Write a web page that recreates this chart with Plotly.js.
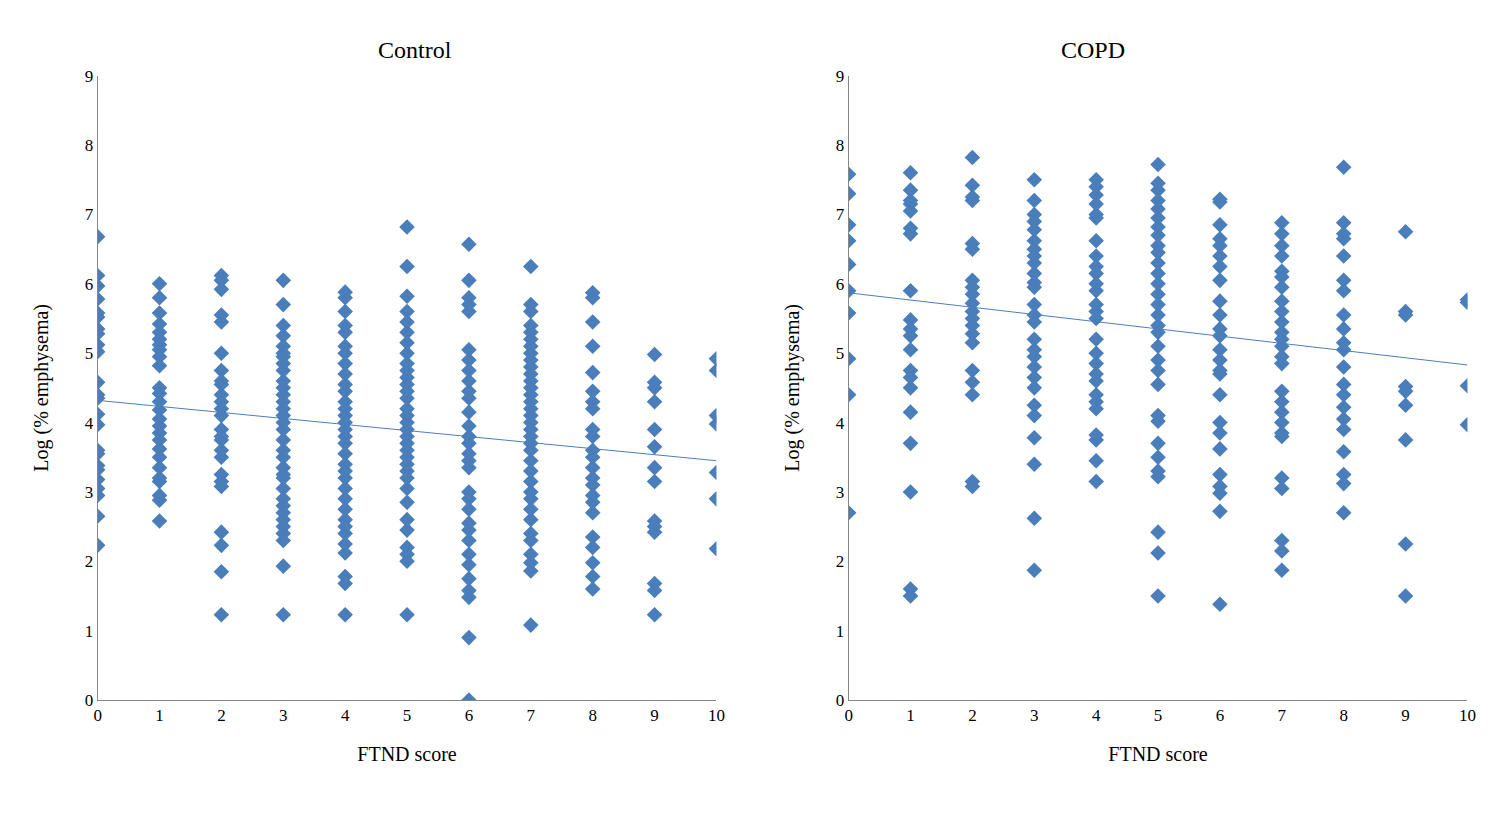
<!DOCTYPE html>
<html><head><meta charset="utf-8">
<script src="https://cdn.plot.ly/plotly-3.0.1.min.js"></script>
<style>body{margin:0}#chart{width:1502px;height:814px}</style>
</head><body><div id="chart"></div>
<script>
// FTND score columns, log(% emphysema) values per score
var controlVals = {
  0: [6.68,6.12,5.97,5.78,5.58,5.52,5.35,5.28,5.12,5.02,4.58,4.40,4.35,4.12,3.97,3.60,3.55,3.38,3.32,3.18,3.05,2.95,2.65,2.23],
  1: [6.0,5.8,5.58,5.42,5.3,5.2,5.12,5.05,4.95,4.82,4.5,4.42,4.3,4.18,4.05,3.95,3.85,3.75,3.62,3.5,3.35,3.2,3.15,2.95,2.88,2.58],
  2: [6.12,6.05,5.92,5.55,5.45,5.0,4.75,4.6,4.55,4.4,4.3,4.2,4.1,3.9,3.8,3.75,3.6,3.5,3.25,3.15,3.08,2.42,2.23,1.85,1.23],
  3: [6.05,5.7,5.4,5.25,5.1,5.0,4.95,4.85,4.75,4.6,4.5,4.4,4.3,4.2,4.1,4.0,3.9,3.75,3.6,3.5,3.35,3.25,3.2,3.05,2.9,2.8,2.7,2.6,2.5,2.4,2.3,1.93,1.23],
  4: [5.88,5.8,5.6,5.4,5.3,5.1,5.0,4.85,4.7,4.55,4.45,4.3,4.2,4.1,4.0,3.9,3.8,3.7,3.55,3.4,3.3,3.2,3.05,2.9,2.75,2.6,2.5,2.4,2.25,2.12,1.78,1.68,1.23],
  5: [6.82,6.25,5.82,5.6,5.45,5.3,5.15,5.0,4.85,4.75,4.65,4.55,4.45,4.35,4.2,4.1,4.0,3.9,3.8,3.7,3.6,3.5,3.4,3.3,3.2,3.05,2.85,2.6,2.45,2.2,2.1,2.0,1.23],
  6: [6.57,6.05,5.8,5.7,5.6,5.05,4.9,4.75,4.6,4.45,4.35,4.15,3.95,3.8,3.7,3.55,3.45,3.35,3.0,2.9,2.75,2.55,2.45,2.3,2.1,1.95,1.75,1.58,1.48,0.9,0.0],
  7: [6.25,5.7,5.6,5.4,5.3,5.2,5.1,5.0,4.9,4.8,4.7,4.6,4.5,4.4,4.3,4.2,4.1,4.0,3.9,3.8,3.7,3.6,3.45,3.3,3.15,3.0,2.9,2.75,2.6,2.4,2.3,2.1,1.98,1.86,1.08],
  8: [5.87,5.8,5.45,5.1,4.72,4.45,4.3,4.2,3.9,3.8,3.6,3.5,3.35,3.2,3.1,2.95,2.85,2.7,2.35,2.2,1.98,1.78,1.6],
  9: [4.98,4.58,4.5,4.3,3.9,3.65,3.35,3.15,2.58,2.5,2.42,1.68,1.58,1.23],
  10: [4.92,4.75,4.1,3.98,3.28,2.9,2.18]
};
var copdVals = {
  0: [7.58,7.3,6.85,6.62,6.28,5.9,5.58,4.92,4.4,2.7],
  1: [7.6,7.35,7.2,7.15,7.05,6.8,6.72,5.9,5.48,5.35,5.25,5.05,4.75,4.65,4.5,4.15,3.7,3.0,1.6,1.5],
  2: [7.82,7.42,7.25,7.2,6.58,6.5,6.05,5.95,5.85,5.72,5.6,5.5,5.4,5.28,5.15,4.75,4.58,4.4,3.15,3.08],
  3: [7.5,7.2,7.0,6.9,6.78,6.62,6.5,6.4,6.3,6.15,6.02,5.95,5.7,5.55,5.45,5.2,5.05,4.95,4.8,4.65,4.5,4.25,4.1,3.78,3.4,2.62,1.87],
  4: [7.5,7.4,7.28,7.15,7.0,6.95,6.62,6.4,6.25,6.15,6.0,5.9,5.7,5.6,5.5,5.2,5.0,4.85,4.7,4.6,4.4,4.3,4.2,3.82,3.75,3.45,3.15],
  5: [7.72,7.45,7.35,7.2,7.08,6.95,6.82,6.7,6.55,6.45,6.3,6.15,6.0,5.85,5.7,5.55,5.4,5.3,5.1,4.9,4.75,4.55,4.1,4.02,3.7,3.5,3.3,3.22,2.42,2.12,1.5],
  6: [7.22,7.18,6.85,6.65,6.55,6.4,6.25,6.05,5.75,5.55,5.35,5.25,5.05,4.9,4.75,4.7,4.4,4.0,3.85,3.62,3.25,3.08,2.98,2.72,1.38],
  7: [6.88,6.72,6.55,6.4,6.18,6.1,5.95,5.75,5.6,5.45,5.3,5.2,5.1,4.95,4.85,4.45,4.3,4.15,4.0,3.85,3.8,3.2,3.05,2.3,2.15,1.87],
  8: [7.68,6.88,6.72,6.65,6.4,6.05,5.9,5.55,5.35,5.15,5.05,4.8,4.55,4.4,4.22,4.05,3.9,3.58,3.25,3.12,2.7],
  9: [6.75,5.6,5.55,4.52,4.45,4.25,3.75,2.25,1.5],
  10: [5.77,5.73,4.53,3.97]
};
var controlTrend = [4.32, 3.45];
var copdTrend = [5.87, 4.83];

function flatten(obj) {
  var xs = [], ys = [];
  Object.keys(obj).forEach(function (k) {
    obj[k].forEach(function (v) { xs.push(+k); ys.push(v); });
  });
  return {x: xs, y: ys};
}

var blue = '#4a7ebb';
var c = flatten(controlVals), p = flatten(copdVals);
var mk = {symbol: 'diamond', size: 12, color: blue};

var data_plot = [
  {x: c.x, y: c.y, mode: 'markers', type: 'scatter', marker: mk, xaxis: 'x', yaxis: 'y'},
  {x: [0, 10], y: controlTrend, mode: 'lines', line: {color: blue, width: 1}, xaxis: 'x', yaxis: 'y'},
  {x: p.x, y: p.y, mode: 'markers', type: 'scatter', marker: mk, xaxis: 'x2', yaxis: 'y2'},
  {x: [0, 10], y: copdTrend, mode: 'lines', line: {color: blue, width: 1}, xaxis: 'x2', yaxis: 'y2'}
];

var font = {family: 'Liberation Serif, Times New Roman, serif', size: 17, color: '#000'};
function xax(dom, anchor) {
  return {domain: dom, anchor: anchor, range: [0, 10], dtick: 1, showgrid: false, zeroline: false,
    showline: true, linecolor: '#868686', ticks: '', tickfont: font,
    title: {text: 'FTND score', font: {family: font.family, size: 20, color: '#000'}, standoff: 22}};
}
function yax(anchor) {
  return {domain: [0.14, 0.907], anchor: anchor, range: [0, 9], dtick: 1, showgrid: false, zeroline: false,
    showline: true, linecolor: '#868686', ticks: '', tickfont: font,
    title: {text: 'Log (% emphysema)', font: {family: font.family, size: 20, color: '#000'}, standoff: 30}};
}

var layout = {
  width: 1502, height: 814, showlegend: false,
  margin: {l: 0, r: 0, t: 0, b: 0},
  paper_bgcolor: '#fff', plot_bgcolor: '#fff',
  xaxis: xax([0.065, 0.477], 'y'),
  yaxis: yax('x'),
  xaxis2: xax([0.565, 0.977], 'y2'),
  yaxis2: yax('x2'),
  annotations: [
    {text: 'Control', x: 0.25, y: 0.957, xref: 'paper', yref: 'paper', showarrow: false, font: {family: font.family, size: 24, color: '#000'}},
    {text: 'COPD', x: 0.75, y: 0.957, xref: 'paper', yref: 'paper', showarrow: false, font: {family: font.family, size: 24, color: '#000'}}
  ]
};

Plotly.newPlot('chart', data_plot, layout, {displayModeBar: false});
</script>
</body></html>
